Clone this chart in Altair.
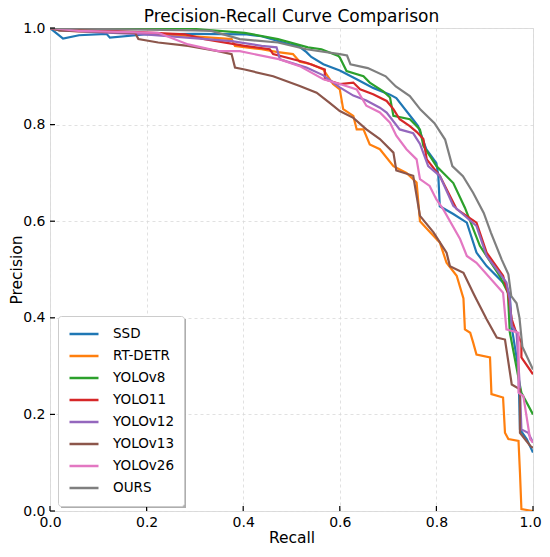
import altair as alt
import pandas as pd

models = ["SSD", "RT-DETR", "YOLOv8", "YOLO11", "YOLOv12", "YOLOv13", "YOLOv26", "OURS"]
colors = ["#1f77b4", "#ff7f0e", "#2ca02c", "#d62728", "#9467bd", "#8c564b", "#e377c2", "#7f7f7f"]

ssd_r = [0, 0.027, 0.06, 0.117, 0.124, 0.2, 0.3, 0.403, 0.438, 0.472, 0.497, 0.514, 0.531, 0.541, 0.566, 0.6, 0.635, 0.669, 0.704, 0.717, 0.752, 0.762, 0.779, 0.8, 0.804, 0.807, 0.835, 0.863, 0.883, 0.904, 0.945, 0.952, 0.956, 0.97, 0.973, 0.987, 1.0]
ssd_p = [1.0, 0.978, 0.985, 0.988, 0.98, 0.987, 0.988, 0.987, 0.983, 0.973, 0.966, 0.963, 0.95, 0.94, 0.925, 0.912, 0.894, 0.876, 0.862, 0.855, 0.81, 0.797, 0.749, 0.72, 0.694, 0.631, 0.615, 0.597, 0.535, 0.507, 0.466, 0.445, 0.38, 0.293, 0.169, 0.149, 0.121]

rtdetr_r = [0, 0.02, 0.06, 0.197, 0.334, 0.376, 0.383, 0.438, 0.472, 0.503, 0.517, 0.541, 0.566, 0.586, 0.6, 0.607, 0.628, 0.635, 0.649, 0.662, 0.683, 0.711, 0.738, 0.759, 0.766, 0.787, 0.807, 0.821, 0.842, 0.856, 0.859, 0.87, 0.876, 0.883, 0.911, 0.914, 0.938, 0.942, 0.949, 0.97, 0.973, 0.976, 1.0]
rtdetr_p = [1.0, 0.995, 0.993, 0.99, 0.98, 0.977, 0.963, 0.956, 0.95, 0.946, 0.93, 0.925, 0.914, 0.884, 0.873, 0.832, 0.818, 0.79, 0.79, 0.759, 0.749, 0.714, 0.7, 0.68, 0.6, 0.577, 0.556, 0.514, 0.487, 0.44, 0.376, 0.369, 0.349, 0.324, 0.318, 0.242, 0.235, 0.162, 0.149, 0.145, 0.08, 0.004, 0.0]

v8_r = [0, 0.1, 0.286, 0.403, 0.472, 0.534, 0.562, 0.597, 0.6, 0.614, 0.649, 0.662, 0.69, 0.704, 0.711, 0.745, 0.766, 0.773, 0.8, 0.835, 0.859, 0.89, 0.931, 0.948, 0.952, 0.973, 0.976, 1.0]
v8_p = [1.0, 1.0, 0.999, 0.99, 0.977, 0.96, 0.956, 0.942, 0.939, 0.911, 0.9, 0.887, 0.869, 0.856, 0.818, 0.811, 0.79, 0.756, 0.714, 0.679, 0.628, 0.549, 0.487, 0.452, 0.37, 0.26, 0.245, 0.2]

y11_r = [0, 0.128, 0.279, 0.32, 0.403, 0.455, 0.462, 0.531, 0.569, 0.569, 0.6, 0.628, 0.642, 0.669, 0.697, 0.711, 0.724, 0.745, 0.759, 0.773, 0.78, 0.807, 0.842, 0.883, 0.904, 0.938, 0.948, 0.956, 0.963, 0.976, 0.976, 1.0]
y11_p = [1.0, 0.994, 0.987, 0.977, 0.963, 0.956, 0.946, 0.928, 0.914, 0.894, 0.884, 0.887, 0.873, 0.863, 0.849, 0.832, 0.811, 0.797, 0.785, 0.77, 0.728, 0.694, 0.625, 0.597, 0.535, 0.487, 0.452, 0.397, 0.376, 0.349, 0.318, 0.283]

v12_r = [0, 0.02, 0.197, 0.376, 0.438, 0.469, 0.476, 0.531, 0.566, 0.6, 0.628, 0.655, 0.683, 0.697, 0.724, 0.752, 0.766, 0.783, 0.807, 0.835, 0.883, 0.904, 0.945, 0.952, 0.956, 0.966, 0.973, 0.976, 0.99, 1.0]
v12_p = [1.0, 0.995, 0.987, 0.973, 0.963, 0.96, 0.935, 0.918, 0.902, 0.877, 0.86, 0.85, 0.835, 0.825, 0.79, 0.782, 0.76, 0.714, 0.694, 0.632, 0.59, 0.528, 0.473, 0.438, 0.383, 0.369, 0.252, 0.169, 0.162, 0.142]

v13_r = [0, 0.02, 0.176, 0.183, 0.224, 0.286, 0.348, 0.376, 0.383, 0.403, 0.462, 0.517, 0.552, 0.579, 0.6, 0.628, 0.655, 0.683, 0.711, 0.717, 0.752, 0.766, 0.794, 0.821, 0.828, 0.856, 0.876, 0.883, 0.904, 0.925, 0.942, 0.956, 0.973, 0.973, 0.994, 1.0]
v13_p = [1.0, 0.995, 0.99, 0.977, 0.97, 0.963, 0.952, 0.946, 0.918, 0.914, 0.9, 0.88, 0.866, 0.845, 0.828, 0.814, 0.79, 0.77, 0.742, 0.705, 0.694, 0.611, 0.577, 0.535, 0.507, 0.493, 0.452, 0.438, 0.397, 0.359, 0.355, 0.262, 0.252, 0.162, 0.135, 0.131]

v26_r = [0, 0.059, 0.224, 0.286, 0.348, 0.393, 0.476, 0.517, 0.566, 0.6, 0.635, 0.655, 0.683, 0.704, 0.717, 0.738, 0.759, 0.766, 0.786, 0.8, 0.814, 0.849, 0.863, 0.883, 0.938, 0.945, 0.97, 0.97, 0.98, 0.994, 1.0]
v26_p = [1.0, 0.994, 0.99, 0.966, 0.952, 0.952, 0.935, 0.921, 0.894, 0.884, 0.873, 0.839, 0.825, 0.804, 0.777, 0.749, 0.728, 0.687, 0.673, 0.645, 0.625, 0.563, 0.528, 0.514, 0.452, 0.376, 0.369, 0.245, 0.238, 0.149, 0.142]

ours_r = [0, 0.1, 0.3, 0.334, 0.393, 0.472, 0.531, 0.6, 0.615, 0.622, 0.658, 0.695, 0.716, 0.745, 0.767, 0.796, 0.818, 0.833, 0.855, 0.876, 0.898, 0.913, 0.935, 0.949, 0.955, 0.966, 0.972, 0.978, 1.0]
ours_p = [1.0, 0.998, 0.995, 0.994, 0.977, 0.97, 0.956, 0.946, 0.943, 0.925, 0.917, 0.9, 0.879, 0.859, 0.831, 0.803, 0.769, 0.714, 0.693, 0.659, 0.617, 0.576, 0.521, 0.49, 0.445, 0.43, 0.4, 0.34, 0.293]

tick_vals = [0.0, 0.2, 0.4, 0.6, 0.8, 1.0]

series = {
    "SSD": (ssd_r, ssd_p),
    "RT-DETR": (rtdetr_r, rtdetr_p),
    "YOLOv8": (v8_r, v8_p),
    "YOLO11": (y11_r, y11_p),
    "YOLOv12": (v12_r, v12_p),
    "YOLOv13": (v13_r, v13_p),
    "YOLOv26": (v26_r, v26_p),
    "OURS": (ours_r, ours_p),
}

rows = []
for m in models:
    rr, pp = series[m]
    for i, (a, b) in enumerate(zip(rr, pp)):
        rows.append({"model": m, "recall": a, "precision": b, "idx": i})
df = pd.DataFrame(rows)

FONT = "DejaVu Sans"
W = 483
H = 483

xscale = alt.Scale(domain=[0, 1], nice=False, zero=False)
yscale = alt.Scale(domain=[0, 1], nice=False, zero=False)

axis_common = dict(values=tick_vals, format=".1f", grid=True,
                   gridDash=[3, 3], gridColor="#d9d9d9", gridWidth=0.8,
                   domain=False, ticks=False,
                   labelFontSize=14, labelFont=FONT, titleFont=FONT,
                   labelColor="black", titleColor="black", titleFontWeight="normal",
                   labelFlush=False)

lines = alt.Chart(df).mark_line(strokeWidth=2.2, clip=True).encode(
    x=alt.X("recall:Q", scale=xscale,
            axis=alt.Axis(title="Recall", titlePadding=1, labelPadding=4, titleFontSize=15.5,
                          labelOffset={"condition": {"test": "datum.value == 1", "value": -3}, "value": 0},
                          **axis_common)),
    y=alt.Y("precision:Q", scale=yscale,
            axis=alt.Axis(title="Precision", labelPadding=5, titleFontSize=15.5,
                          titleX=-34, titleBaseline="middle", **axis_common)),
    color=alt.Color("model:N", scale=alt.Scale(domain=models, range=colors),
                    sort=models,
                    legend=alt.Legend(title=None, orient="none", legendX=8, legendY=288,
                                      symbolType="stroke", symbolSize=841, symbolStrokeWidth=2.5,
                                      clipHeight=16, rowPadding=6, labelOffset=13,
                                      labelFontSize=13.5, labelFont=FONT, labelColor="black",
                                      padding=10, fillColor="white", strokeColor="#cccccc",
                                      cornerRadius=3, labelLimit=200)),
    order=alt.Order("idx:Q"),
)

tick_df = pd.DataFrame({"t": tick_vals})
xticks = alt.Chart(tick_df).mark_rule(color="black", strokeWidth=1.2).encode(
    x=alt.X("t:Q", scale=xscale), y=alt.value(H), y2=alt.value(H - 5)
)
yticks = alt.Chart(tick_df).mark_rule(color="black", strokeWidth=1.2).encode(
    y=alt.Y("t:Q", scale=yscale), x=alt.value(0), x2=alt.value(5)
)

shadow = alt.Chart(alt.Data(values=[{"a": 1}])).mark_rect(color="#8c8c8c", opacity=0.7).encode(
    x=alt.value(11), x2=alt.value(136), y=alt.value(291), y2=alt.value(480)
)

chart = alt.layer(shadow, lines, xticks, yticks).properties(
    width=W, height=H,
    title=alt.TitleParams("Precision-Recall Curve Comparison", fontSize=17, font=FONT,
                          fontWeight="normal", color="black", anchor="middle", offset=1, dy=6),
    autosize=alt.AutoSizeParams(type="none"),
    padding={"left": 42, "top": 20, "right": 9, "bottom": 38},
).configure_view(stroke="black", strokeWidth=1.5).configure(background="white")

chart.save("out.html", embed_options={"renderer": "svg", "actions": False})
